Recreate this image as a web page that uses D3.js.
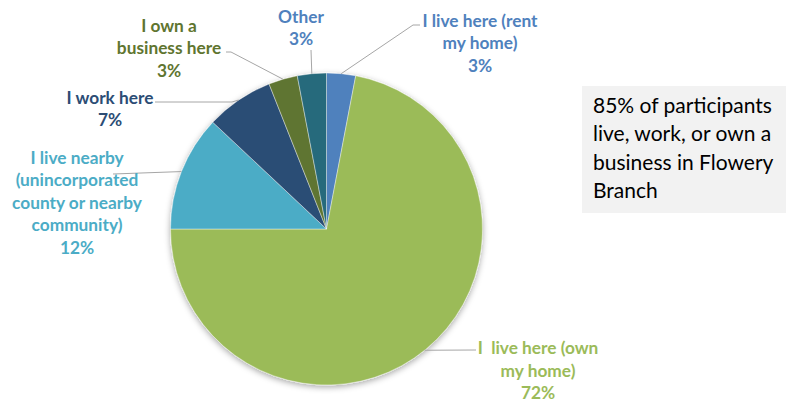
<!DOCTYPE html>
<html>
<head>
<meta charset="utf-8">
<script src="https://cdn.jsdelivr.net/npm/d3@7"></script>
<style>
  html, body { margin: 0; padding: 0; background: #fff; }
  svg { display: block; }
  text { white-space: pre; }
</style>
</head>
<body>
<svg id="svg" width="786" height="402"></svg>
<script>
// data
var categories = ["I live here (rent my home)", "I  live here (own my home)",
    "I live nearby (unincorporated county or nearby community)",
    "I work here", "I own a business here", "Other"];
var values = [3, 72, 12, 7, 3, 3];
var labelLines = [
    ["I live here (rent", "my home)"],
    ["I  live here (own", "my home)"],
    ["I live nearby", "(unincorporated", "county or nearby", "community)"],
    ["I work here"],
    ["I own a", "business here"],
    ["Other"]
];
var noteLines = ["85% of participants", "live, work, or own a", "business in Flowery", "Branch"];

// looks
var sliceColors = ["#4F81BD", "#9BBB59", "#4BACC6", "#2C4D75", "#5F7530", "#276A7C"];
var textColors = ["#4F81BD", "#9BBB59", "#4BACC6", "#2C4D75", "#5F7530", "#4F81BD"];
// label placement: text centre x, first line y, leader elbow + end, optional start angle (deg)
var labelPos = [
    {x: 480, y: 20, pts: [[413, 25], [420, 25]]},
    {x: 538, y: 347.5, pts: [[476, 350]], at: 141},
    {x: 77, y: 157, pts: [[113, 174]]},
    {x: 110, y: 97, pts: [[232, 102], [155, 102]]},
    {x: 169, y: 25, pts: [[231, 52], [226, 52]]},
    {x: 301, y: 16, pts: [[311, 50]]}
];

var svg = d3.select("#svg"),
    cx = 326.5, cy = 229, R = 156, lh = 22.5;

var defs = svg.append("defs");
var f = defs.append("filter").attr("id", "sh")
    .attr("x", "-10%").attr("y", "-10%").attr("width", "120%").attr("height", "120%");
f.append("feDropShadow").attr("dx", 0).attr("dy", 2).attr("stdDeviation", 3)
    .attr("flood-color", "#000").attr("flood-opacity", 0.35);

var pie = d3.pie().sort(null).value(function(d) { return d; });
var arcs = pie(values);
var arc = d3.arc().innerRadius(0).outerRadius(R);

var g = svg.append("g").attr("transform", "translate(" + cx + "," + cy + ")");
var gp = g.append("g").attr("filter", "url(#sh)");
gp.selectAll("path").data(arcs).enter().append("path")
    .attr("d", arc)
    .attr("fill", function(d, i) { return sliceColors[i]; })
    .attr("stroke", "#fff").attr("stroke-width", 0.4);

// leader lines
function edgePoint(a) {
    return [cx + R * Math.sin(a), cy - R * Math.cos(a)];
}
var line = d3.line();
svg.append("g").selectAll("path").data(arcs).enter().append("path")
    .attr("d", function(d, i) {
        var p = labelPos[i];
        var a = p.at != null ? p.at * Math.PI / 180 : (d.startAngle + d.endAngle) / 2;
        return line([edgePoint(a)].concat(p.pts));
    })
    .attr("fill", "none").attr("stroke", "#A6A6A6").attr("stroke-width", 1);

// labels
var lbl = svg.append("g").selectAll("text").data(arcs).enter().append("text")
    .attr("text-anchor", "middle")
    .attr("font-family", "Lato, 'Open Sans', sans-serif")
    .attr("font-weight", "bold").attr("font-size", 17.3)
    .attr("fill", function(d, i) { return textColors[i]; });
lbl.each(function(d, i) {
    var t = d3.select(this), p = labelPos[i];
    var lines = labelLines[i].concat([d.data + "%"]);
    lines.forEach(function(s, k) {
        t.append("tspan").attr("x", p.x).attr("y", p.y + k * lh)
            .attr("dominant-baseline", "central").text(s);
    });
});

// note box
svg.append("rect").attr("x", 582).attr("y", 86).attr("width", 210).attr("height", 127)
    .attr("fill", "#F2F2F2");
var note = svg.append("text").attr("font-family", "Lato, 'Open Sans', sans-serif")
    .attr("font-size", 21).attr("fill", "#000");
noteLines.forEach(function(s, k) {
    note.append("tspan").attr("x", 593).attr("y", 112.7 + k * 28.5).text(s);
});
</script>
</body>
</html>
